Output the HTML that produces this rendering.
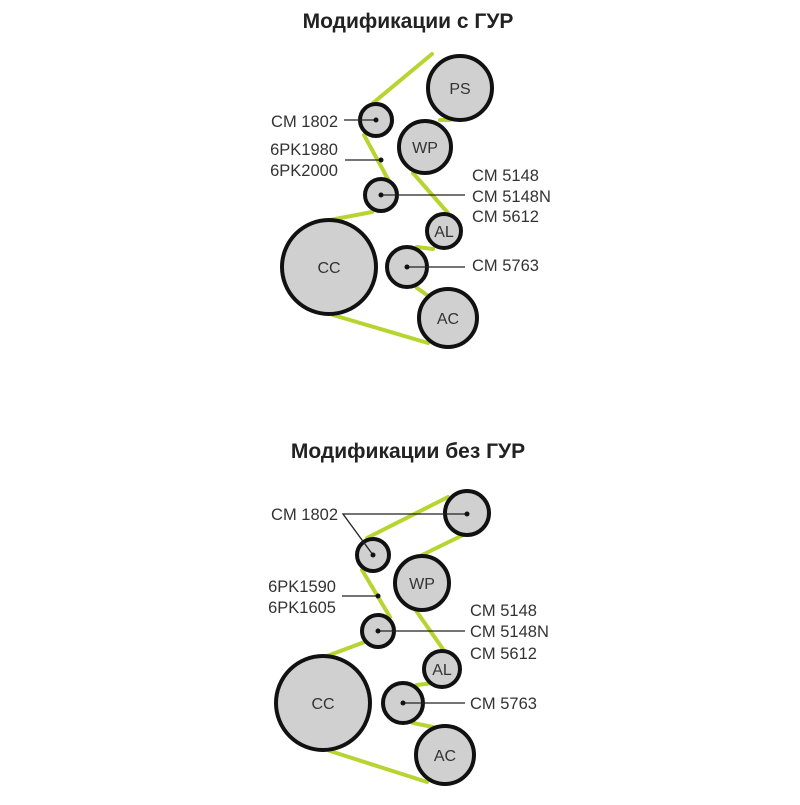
<!DOCTYPE html>
<html><head><meta charset="utf-8"><style>body{margin:0;background:#fff}</style></head><body>
<svg width="800" height="800" viewBox="0 0 800 800" xmlns="http://www.w3.org/2000/svg" font-family="Liberation Sans, sans-serif">
<rect width="800" height="800" fill="#fff"/>
<text x="408" y="28" font-size="21" font-weight="bold" text-anchor="middle" fill="#222">Модификации с ГУР</text>
<text x="408" y="458" font-size="21" font-weight="bold" text-anchor="middle" fill="#222">Модификации без ГУР</text>
<g stroke="#b8d430" stroke-width="4" stroke-linecap="round">
<line x1="432" y1="54" x2="373" y2="103"/>
<line x1="364" y1="135" x2="390" y2="183"/>
<line x1="372" y1="212" x2="330" y2="220"/>
<line x1="333" y1="315" x2="428" y2="343"/>
<line x1="427" y1="295" x2="417" y2="288"/>
<line x1="417" y1="247" x2="433" y2="249"/>
<line x1="448" y1="213" x2="413" y2="173"/>
<line x1="440" y1="120" x2="450" y2="120"/>
<line x1="448" y1="497" x2="367" y2="538"/>
<line x1="362" y1="570" x2="390" y2="617"/>
<line x1="370" y1="640" x2="327" y2="656"/>
<line x1="330" y1="751" x2="427" y2="782"/>
<line x1="433" y1="727" x2="413" y2="723"/>
<line x1="417" y1="685" x2="433" y2="683"/>
<line x1="445" y1="652" x2="410" y2="602"/>
<line x1="420" y1="556" x2="463" y2="535"/>
</g>
<g fill="#d0d0d0" stroke="#111" stroke-width="4">
<circle cx="460" cy="88" r="32"/>
<circle cx="376" cy="120" r="16"/>
<circle cx="425" cy="147" r="26"/>
<circle cx="381" cy="195" r="16"/>
<circle cx="444" cy="231" r="17"/>
<circle cx="329" cy="267" r="47"/>
<circle cx="407" cy="267" r="20"/>
<circle cx="448" cy="318" r="29"/>
<circle cx="467" cy="513" r="22"/>
<circle cx="373" cy="555" r="16"/>
<circle cx="422" cy="583" r="27"/>
<circle cx="378" cy="631" r="16"/>
<circle cx="442" cy="669" r="18"/>
<circle cx="323" cy="703" r="47"/>
<circle cx="403" cy="703" r="20"/>
<circle cx="445" cy="755" r="29"/>
</g>
<g stroke="#222" stroke-width="1.3" fill="none">
<line x1="344" y1="120" x2="376" y2="120"/>
<line x1="345" y1="160" x2="381" y2="160"/>
<line x1="381" y1="195" x2="465" y2="195"/>
<line x1="407" y1="267" x2="465" y2="267"/>
<polyline points="373,555 343,514 467,514"/>
<line x1="342" y1="596" x2="378" y2="596"/>
<line x1="378" y1="631" x2="465" y2="631"/>
<line x1="403" y1="703" x2="465" y2="703"/>
</g>
<g fill="#111">
<circle cx="376" cy="120" r="2.5"/><circle cx="381" cy="160" r="2.5"/><circle cx="381" cy="195" r="2.5"/><circle cx="407" cy="267" r="2.5"/>
<circle cx="373" cy="555" r="2.5"/><circle cx="467" cy="514" r="2.5"/><circle cx="378" cy="596" r="2.5"/><circle cx="378" cy="631" r="2.5"/><circle cx="403" cy="703" r="2.5"/>
</g>
<g font-size="16" fill="#333" text-anchor="middle">
<text x="460" y="94">PS</text><text x="425" y="153">WP</text><text x="444" y="237">AL</text><text x="329" y="273">CC</text><text x="448" y="324">AC</text>
<text x="422" y="589">WP</text><text x="442" y="675">AL</text><text x="323" y="709">CC</text><text x="445" y="761">AC</text>
</g>
<g font-size="16.5" fill="#333" text-anchor="end">
<text x="338" y="127">CM 1802</text><text x="338" y="155">6PK1980</text><text x="338" y="176">6PK2000</text>
<text x="338" y="520">CM 1802</text><text x="336" y="592">6PK1590</text><text x="336" y="613">6PK1605</text>
</g>
<g font-size="16.5" fill="#333">
<text x="472" y="181">CM 5148</text><text x="472" y="202">CM 5148N</text><text x="472" y="222">CM 5612</text><text x="472" y="271">CM 5763</text>
<text x="470" y="616">CM 5148</text><text x="470" y="637">CM 5148N</text><text x="470" y="659">CM 5612</text><text x="470" y="709">CM 5763</text>
</g>
</svg>
</body></html>
